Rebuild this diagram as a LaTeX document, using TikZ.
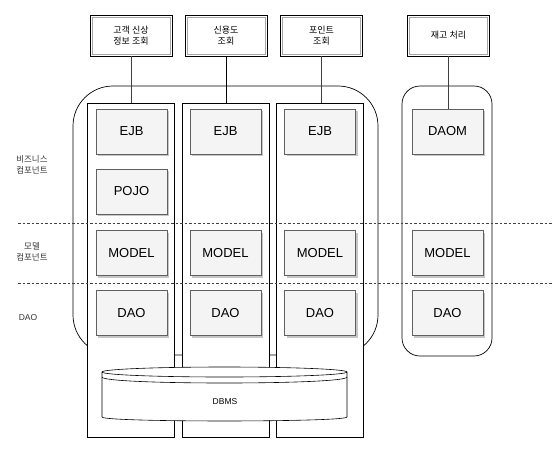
\documentclass[tikz,border=0pt]{standalone}
\usepackage{fontspec}
\setmainfont{Liberation Sans}
\newfontfamily\kr{Noto Sans CJK KR}
\usetikzlibrary{shadows}
\begin{document}
\begin{tikzpicture}[x=1pt,y=-1pt,
  every node/.style={inner sep=0pt},
  topbox/.style={draw=black, line width=0.9pt, fill=white, minimum width=82pt, minimum height=41pt,
    align=center, font=\kr\fontsize{9}{11}\selectfont,
    path picture={\draw[gray!70, line width=0.6pt]
      ([shift={(2pt,-2pt)}]path picture bounding box.north west) rectangle
      ([shift={(-2pt,2pt)}]path picture bounding box.south east);}},
  column/.style={draw=black, line width=0.8pt, fill=white, minimum width=87pt, minimum height=334pt},
  comp/.style={draw=gray!75!black, line width=0.6pt, fill=gray!9, minimum width=71pt, minimum height=45pt,
    font=\fontsize{13}{15}\selectfont,
    drop shadow={shadow xshift=2pt, shadow yshift=-2pt, fill=gray!45, opacity=1}},
  conn/.style={draw=black!75, line width=0.8pt},
  layer/.style={draw=black!75, dash pattern=on 2.5pt off 2pt, line width=0.6pt},
  lbl/.style={align=center, font=\kr\fontsize{8.5}{10.5}\selectfont, text=black!80},
  frame/.style={draw=black, line width=0.7pt}]
\useasboundingbox (0,0) rectangle (560,451);

% enclosing frames
\draw[frame, rounded corners=18pt] (402,86) rectangle (492,356);
\draw[frame, rounded corners=40pt] (73,86) rectangle (378,355);

% columns
\node[column] (c1) at (130.5,270) {};
\node[column] (c2) at (225.5,270) {};
\node[column] (c3) at (320,270) {};

% layer separators
\coordinate (d1a) at (18,223); \coordinate (d1b) at (552,223);
\coordinate (d2a) at (18,283); \coordinate (d2b) at (552,283);
\draw[layer] (d1a) -- (d1b);
\draw[layer] (d2a) -- (d2b);

% top boxes
\node[topbox] (t1) at (131,35.5) {고객 신상\\정보 조회};
\node[topbox] (t2) at (226,35.5) {신용도\\조회};
\node[topbox] (t3) at (321.5,35.5) {포인트\\조회};
\node[topbox] (t4) at (448.5,35.5) {재고 처리};

% components
\node[comp] (ejb1) at (131.5,131.5) {EJB};
\node[comp] (pojo) at (131.5,191.5) {POJO};
\node[comp] (mod1) at (131.5,253) {MODEL};
\node[comp] (dao1) at (131.5,313) {DAO};
\node[comp] (ejb2) at (225.5,131.5) {EJB};
\node[comp] (mod2) at (225.5,253) {MODEL};
\node[comp] (dao2) at (225.5,313) {DAO};
\node[comp] (ejb3) at (320,131.5) {EJB};
\node[comp] (mod3) at (320,253) {MODEL};
\node[comp] (dao3) at (320,313) {DAO};
\node[comp] (daom) at (447.5,131.5) {DAOM};
\node[comp] (mod4) at (447.5,253) {MODEL};
\node[comp] (dao4) at (447.5,313) {DAO};

% connectors
\draw[conn] (t1.south) -- (t1.south |- c1.north);
\draw[conn, draw=black] (t2.south) -- (t2.south |- c2.north);
\draw[conn] (t3.south) -- (t3.south |- c3.north);
\draw[conn] (t4.south) -- (t4.south |- daom.north);

% layer labels
\node[lbl] (lb1) at (32,165) {비즈니스\\컴포넌트};
\node[lbl] (lb2) at (32,252) {모델\\컴포넌트};
\node[lbl, font=\fontsize{8.5}{10.5}\selectfont] (lb3) at (28,318) {DAO};

% DBMS cylinder
\fill[white] (102,372) -- (102,417) .. controls (102,422.3) and (347,422.3) .. (347,417)
  -- (347,372) .. controls (347,365.3) and (102,365.3) .. (102,372) -- cycle;
\draw[line width=0.6pt] (224.5,372) ellipse [x radius=122.5, y radius=5];
\draw[line width=0.6pt] (102,377) .. controls (102,385) and (347,385) .. (347,377);
\draw[line width=0.6pt] (102,372) -- (102,417) .. controls (102,422.3) and (347,422.3) .. (347,417) -- (347,372);
\node[font=\fontsize{8.5}{10.5}\selectfont] (dbms) at (225,402) {DBMS};
\end{tikzpicture}
\end{document}
